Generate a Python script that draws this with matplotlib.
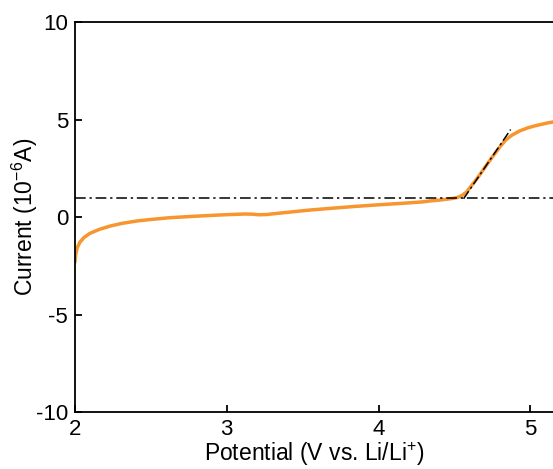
import matplotlib
matplotlib.use("Agg")
import matplotlib.pyplot as plt
import numpy as np

plt.rcParams['font.family'] = ['Liberation Sans', 'DejaVu Sans']
plt.rcParams['mathtext.fontset'] = 'custom'
plt.rcParams['mathtext.rm'] = 'Liberation Sans'
plt.rcParams['mathtext.it'] = 'Liberation Sans:italic'

# Curve data (potential V, current 1e-6 A)
potential = [2.0, 2.005, 2.015, 2.033, 2.06, 2.099, 2.16, 2.231, 2.31, 2.407, 2.5, 2.626,
             2.78, 2.956, 3.05, 3.12, 3.17, 3.21, 3.26, 3.33, 3.42, 3.53, 3.7, 3.85, 3.96, 4.1,
             4.2, 4.29, 4.34, 4.4, 4.45, 4.49, 4.52, 4.55, 4.58, 4.61, 4.65, 4.7, 4.75,
             4.8, 4.84, 4.88, 4.93, 4.98, 5.03, 5.08, 5.12, 5.16]
current = [-2.3, -1.9, -1.55, -1.27, -1.03, -0.82, -0.62, -0.45, -0.31, -0.19, -0.11, -0.02,
           0.05, 0.12, 0.15, 0.17, 0.16, 0.13, 0.14, 0.2, 0.27, 0.36, 0.47, 0.56, 0.62, 0.69,
           0.74, 0.79, 0.84, 0.88, 0.93, 0.97, 1.02, 1.12, 1.3, 1.6, 2.0, 2.55, 3.1,
           3.62, 3.98, 4.22, 4.43, 4.58, 4.69, 4.78, 4.85, 4.9]

# Guide lines
baseline_y = 1.0
tangent_x = [4.56, 4.87]
tangent_y = [0.95, 4.5]

fig = plt.figure(figsize=(5.53, 4.69), dpi=100)
ax = fig.add_axes([75/553, 1 - 412.3/469, 1 - 75/553 + 0.0005, (412.3 - 22.3)/469])

ax.plot(potential, current, color='#F7952F', lw=2.5, solid_capstyle='round', zorder=2)
ax.axhline(baseline_y, color='black', lw=1.1, linestyle=(0, (7, 2.5, 1.5, 2.5)), zorder=3)
ax.plot(tangent_x, tangent_y, color='black', lw=1.1, linestyle=(0, (6, 2, 1.5, 2)), zorder=3)

ax.set_xlim(2, 2 + (553 - 75) / 151.7)
ax.set_ylim(-10, 10)
ax.set_xticks([2, 3, 4, 5])
ax.set_yticks([-10, -5, 0, 5, 10])
ax.set_yticklabels(['-10', '-5', '0', '5', '10'])
ax.spines['right'].set_visible(False)
for s in ['left', 'top', 'bottom']:
    ax.spines[s].set_linewidth(1.3)
ax.tick_params(direction='in', length=5, width=1.3, labelsize=16, pad=5)

ax.set_xlabel('Potential (V vs. Li/Li$^{+}$)', fontsize=16.5, labelpad=0)
ax.set_ylabel('Current (10$^{\\mathregular{-6}}$A)', fontsize=16.5)
ax.yaxis.set_label_coords(-0.073, 0.5)

fig.savefig('out.png', dpi=100)
